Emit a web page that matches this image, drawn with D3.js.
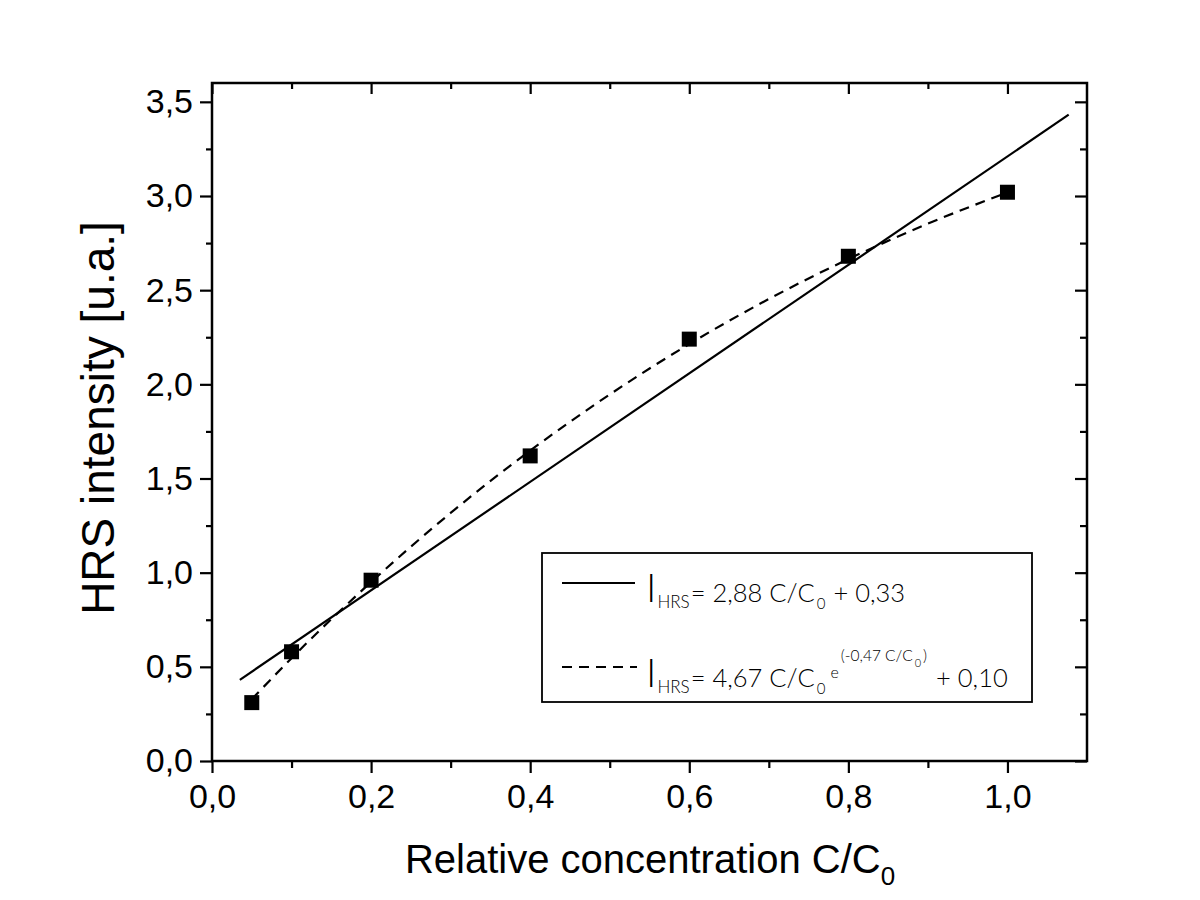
<!DOCTYPE html>
<html>
<head>
<meta charset="utf-8">
<script src="https://cdn.jsdelivr.net/npm/d3@7"></script>
<style>
  html, body { margin: 0; padding: 0; background: #fff; }
  svg { display: block; }
</style>
</head>
<body>
<svg id="chart" width="1200" height="900"></svg>
<script>
// ---- data ----
const concentration = [0.05, 0.1, 0.2, 0.4, 0.6, 0.8, 1.0];
const intensity     = [0.31, 0.58, 0.96, 1.62, 2.24, 2.68, 3.02];

// linear fit I = 2.88 C/C0 + 0.33 (end points as drawn)
const linFitX = [0.035, 1.077];
const linFitY = [0.431, 3.432];

// exponential fit I = 4.67 C/C0 e^(-0.47 C/C0) + 0.10
const expFitX = [0.05, 0.1, 0.2, 0.3, 0.4, 0.5, 0.6, 0.7, 0.8, 0.9, 1.0];
const expFitY = [0.328, 0.546, 0.950, 1.317, 1.648, 1.946, 2.214, 2.453, 2.665, 2.853, 3.019];

const xMajorTicks = [0, 0.2, 0.4, 0.6, 0.8, 1.0];
const xMinorTicks = [0.1, 0.3, 0.5, 0.7, 0.9];
const yMajorTicks = [0, 0.5, 1.0, 1.5, 2.0, 2.5, 3.0, 3.5];
const yMinorTicks = [0.25, 0.75, 1.25, 1.75, 2.25, 2.75, 3.25];

const xTitle = "Relative concentration C/C";
const yTitle = "HRS intensity [u.a.]";

// ---- layout ----
const svg = d3.select("#chart");
const L = 212, R = 1087, T = 83, B = 761;
const x = d3.scaleLinear().domain([0, 1.1]).range([L, R]);
const y = d3.scaleLinear().domain([0, 3.6]).range([B, T]);
const fmt = d => d3.format(".1f")(d).replace(".", ",");
const sans = "'Liberation Sans', Arial, sans-serif";
const light = "Lato, 'Open Sans', sans-serif";

function styleAxis(g) {
  g.select(".domain").remove();
  g.selectAll(".tick line").attr("stroke", "#000").attr("stroke-width", 2.2);
}
function styleLabels(g) {
  g.selectAll("text").attr("font-size", 34).attr("fill", "#000").attr("font-family", sans);
}
// left
svg.append("g").attr("transform", `translate(${L},0)`)
  .call(d3.axisLeft(y).tickValues(yMajorTicks).tickSize(12).tickPadding(7).tickFormat(fmt))
  .call(styleAxis).call(styleLabels);
svg.append("g").attr("transform", `translate(${L},0)`)
  .call(d3.axisLeft(y).tickValues(yMinorTicks).tickSize(6).tickFormat(""))
  .call(styleAxis);
// bottom
svg.append("g").attr("transform", `translate(0,${B})`)
  .call(d3.axisBottom(x).tickValues(xMajorTicks).tickSize(12).tickPadding(11).tickFormat(fmt))
  .call(styleAxis).call(styleLabels);
svg.append("g").attr("transform", `translate(0,${B})`)
  .call(d3.axisBottom(x).tickValues(xMinorTicks).tickSize(7).tickFormat(""))
  .call(styleAxis);
// right (inward)
svg.append("g").attr("transform", `translate(${R},0)`)
  .call(d3.axisLeft(y).tickValues(yMajorTicks).tickSize(12).tickFormat(""))
  .call(styleAxis);
svg.append("g").attr("transform", `translate(${R},0)`)
  .call(d3.axisLeft(y).tickValues(yMinorTicks).tickSize(7).tickFormat(""))
  .call(styleAxis);
// top (inward)
svg.append("g").attr("transform", `translate(0,${T})`)
  .call(d3.axisBottom(x).tickValues(xMajorTicks).tickSize(11).tickFormat(""))
  .call(styleAxis);
svg.append("g").attr("transform", `translate(0,${T})`)
  .call(d3.axisBottom(x).tickValues(xMinorTicks).tickSize(6).tickFormat(""))
  .call(styleAxis);

// frame
svg.append("rect").attr("x", L).attr("y", T).attr("width", R - L).attr("height", B - T)
  .attr("fill", "none").attr("stroke", "#000").attr("stroke-width", 2.5);

// fits
const line = d3.line().x(d => x(d[0])).y(d => y(d[1]));
svg.append("path").datum(d3.zip(linFitX, linFitY))
  .attr("d", line).attr("fill", "none").attr("stroke", "#000").attr("stroke-width", 2.2);
svg.append("path").datum(d3.zip(expFitX, expFitY))
  .attr("d", line.curve(d3.curveMonotoneX)).attr("fill", "none").attr("stroke", "#000")
  .attr("stroke-width", 2.2).attr("stroke-dasharray", "10,7");

// data squares
const sq = 15;
svg.append("g").selectAll("rect").data(d3.zip(concentration, intensity)).join("rect")
  .attr("x", d => x(d[0]) - sq / 2).attr("y", d => y(d[1]) - sq / 2)
  .attr("width", sq).attr("height", sq).attr("fill", "#000");

// axis titles
const xt = svg.append("text").attr("x", 650).attr("y", 873).attr("text-anchor", "middle")
  .attr("font-family", sans).attr("font-size", 40).attr("fill", "#000");
xt.append("tspan").text(xTitle);
xt.append("tspan").attr("font-size", 26).attr("dy", 12).text("0");

svg.append("text").attr("transform", "translate(114,418) rotate(-90)")
  .attr("text-anchor", "middle").attr("font-family", sans).attr("font-size", 46)
  .attr("fill", "#000").text(yTitle);

// legend
svg.append("rect").attr("x", 542).attr("y", 553).attr("width", 490).attr("height", 149)
  .attr("fill", "#fff").attr("stroke", "#000").attr("stroke-width", 1.8);
svg.append("line").attr("x1", 562).attr("x2", 635).attr("y1", 583).attr("y2", 583)
  .attr("stroke", "#000").attr("stroke-width", 2.2);
svg.append("line").attr("x1", 562).attr("x2", 637).attr("y1", 667).attr("y2", 667)
  .attr("stroke", "#000").attr("stroke-width", 2.2).attr("stroke-dasharray", "10,7");

// pieces: [text, gap before, baseline offset, font size]
function legendLine(x0, base, pieces) {
  const g = svg.append("g").attr("font-family", light).attr("font-weight", 300).attr("fill", "#000");
  let cx = x0;
  pieces.forEach(([txt, gap, off, size]) => {
    cx += gap;
    const t = g.append("text").attr("x", cx).attr("y", base + off)
      .attr("font-size", size).style("white-space", "pre").text(txt);
    cx += t.node().getComputedTextLength();
  });
}
legendLine(646, 602, [
  ["I", 0, 0, 40],
  ["HRS", 1, 6, 17],
  ["= 2,88 C/C", 1, 0, 25.5],
  ["0", 2, 7, 15],
  ["+ 0,33", 8, 0, 25.5]
]);
legendLine(646, 687, [
  ["I", 0, 0, 40],
  ["HRS", 1, 6, 17],
  ["= 4,67 C/C", 1, 0, 25.5],
  ["0", 2, 7, 15],
  ["e", 5, -9, 16],
  ["(-0,47 C/C", 2, -26, 15.5],
  ["0", 2, -20, 11],
  [")", 2, -26, 15.5],
  ["+ 0,10", 9, 0, 25.5]
]);
</script>
</body>
</html>
